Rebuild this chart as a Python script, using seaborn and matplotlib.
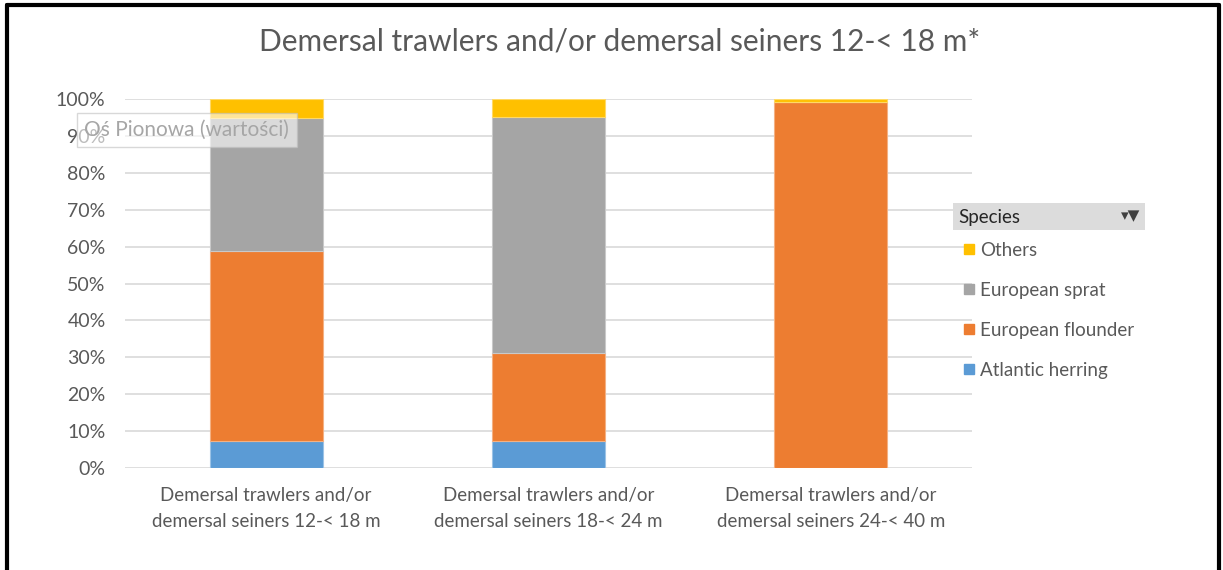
import numpy as np
import matplotlib
matplotlib.use('Agg')
import matplotlib.pyplot as plt
from matplotlib.lines import Line2D
from matplotlib.patches import Rectangle
import seaborn as sns

# shares (%)
categories = ['Demersal trawlers and/or\ndemersal seiners 12-< 18 m',
              'Demersal trawlers and/or\ndemersal seiners 18-< 24 m',
              'Demersal trawlers and/or\ndemersal seiners 24-< 40 m']
atlantic_herring = [7.3, 7.3, 0.0]
european_flounder = [51.5, 23.9, 99.3]
european_sprat = [36.1, 63.8, 0.0]
others = [5.1, 5.0, 0.7]

series_names = ['Atlantic herring', 'European flounder', 'European sprat', 'Others']
series_colors = ['#5B9BD5', '#ED7D31', '#A5A5A5', '#FFC000']
edge_colors = ['#9cc3e6', '#f4b183', '#c9c9c9', '#ffd966']
yticks = [0, 10, 20, 30, 40, 50, 60, 70, 80, 90, 100]

def make_plot():
    sns.set_style('white')
    plt.rcParams['font.family'] = ['Lato', 'DejaVu Sans']
    txt = '#595959'

    fig = plt.figure(figsize=(12.23, 5.70), dpi=100)
    ax = fig.add_axes([0.1022, 0.1789, 0.6926, 0.6474])

    bottom = np.zeros(len(categories))
    for name, vals, col, ec in zip(series_names,
                                   [atlantic_herring, european_flounder, european_sprat, others],
                                   series_colors, edge_colors):
        sns.barplot(x=categories, y=vals, bottom=bottom, color=col, width=0.4,
                    edgecolor=ec, linewidth=0.8, saturation=1, ax=ax, zorder=3)
        bottom = bottom + np.array(vals)

    ax.set_ylim(0, 100)
    ax.set_xlim(-0.5, 2.5)
    ax.set_yticks(yticks)
    ax.set_yticklabels([f'{v}%' for v in yticks])
    for y in yticks:
        ax.axhline(y, color='#d9d9d9', lw=1.2, zorder=0)
    for s in ax.spines.values():
        s.set_visible(False)
    ax.tick_params(axis='y', length=0, colors=txt, labelsize=14, pad=14)
    ax.tick_params(axis='x', length=0, colors=txt, labelsize=13.5, pad=14)
    for lab in ax.get_xticklabels():
        lab.set_linespacing(1.6)

    fig.text(0.507, 0.928, 'Demersal trawlers and/or demersal seiners 12-< 18 m*',
             ha='center', va='center', fontsize=21.5, color=txt)

    # axis tooltip overlay
    fig.text(0.069, 0.772, 'Oś Pionowa (wartości)', ha='left', va='center',
             fontsize=15, color='#a6a6a6', zorder=10,
             bbox=dict(boxstyle='square,pad=0.35', fc='white', ec='#bfbfbf', alpha=0.6))

    # legend header
    fig.patches.append(Rectangle((953 / 1223, 1 - 230 / 570), 192 / 1223, 27 / 570,
                                 transform=fig.transFigure, fc='#dcdcdc', ec='none'))
    fig.text(958 / 1223, 1 - 217 / 570, 'Species', ha='left', va='center',
             fontsize=13.5, color='#262626')
    fig.text(1140 / 1223, 1 - 216 / 570, '▾▼', ha='right', va='center',
             fontsize=11, color='#404040', family='DejaVu Sans')

    handles = [Line2D([], [], marker='s', ls='none', color=c, markersize=7)
               for c in series_colors[::-1]]
    fig.legend(handles, series_names[::-1], loc='upper left',
               bbox_to_anchor=(964 / 1223, 1 - 242 / 570), frameon=False,
               fontsize=13.5, labelcolor=txt, handlelength=0.5, handletextpad=0.35,
               labelspacing=1.22, borderpad=0, borderaxespad=0)

    # outer frame (left, top, right)
    for xs, ys in [([0.006, 0.006], [0, 0.992]), ([0.006, 0.997], [0.992, 0.992]),
                   ([0.997, 0.997], [0, 0.992])]:
        fig.add_artist(Line2D(xs, ys, color='black', lw=3, transform=fig.transFigure))

    fig.savefig('out.png', dpi=100)

if __name__ == '__main__':
    make_plot()
